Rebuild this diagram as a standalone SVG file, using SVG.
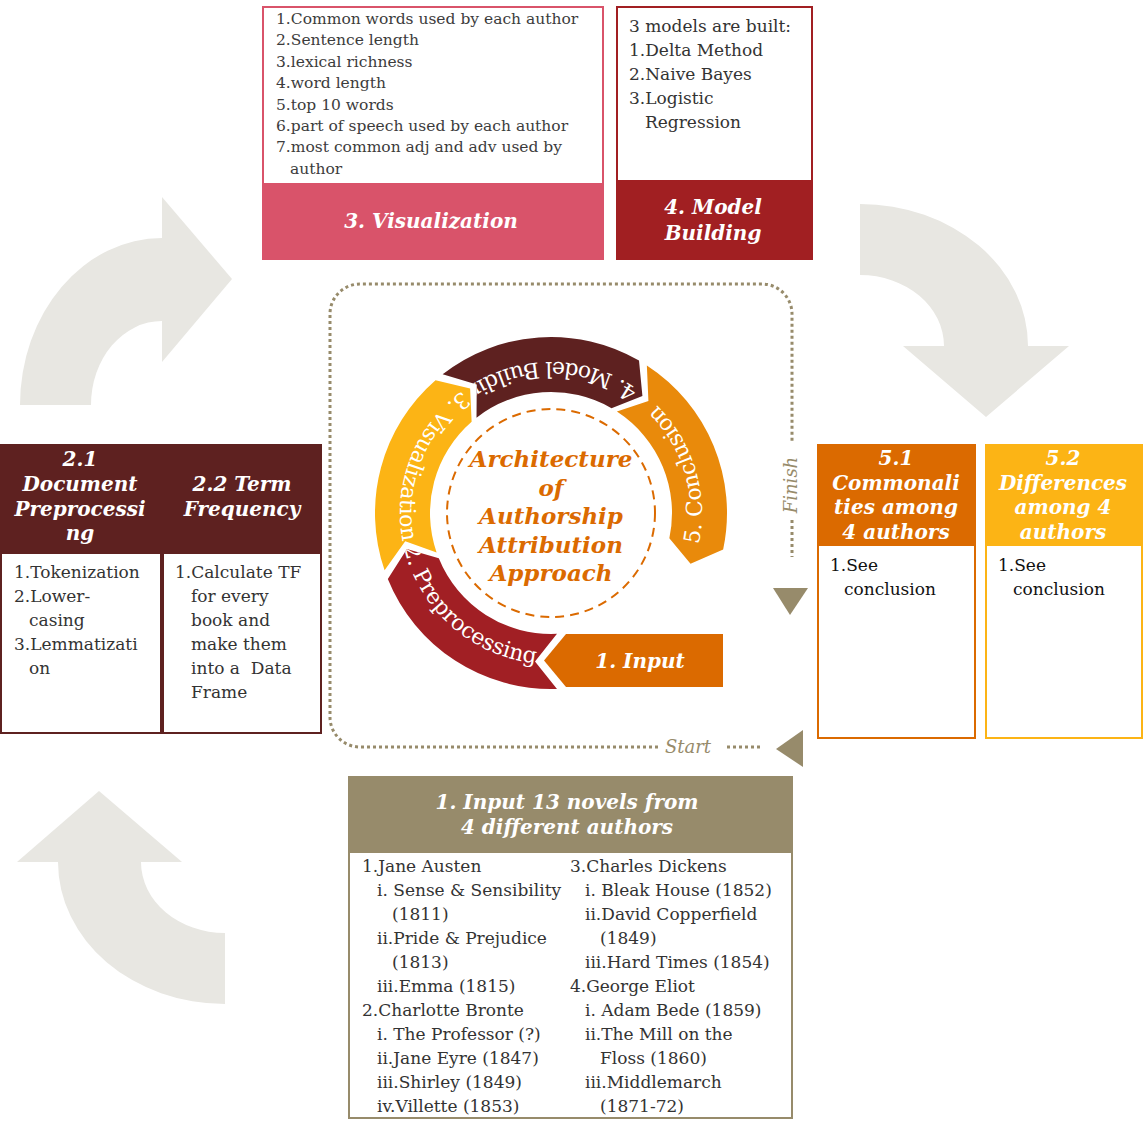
<svg xmlns="http://www.w3.org/2000/svg" width="1144" height="1128" viewBox="0 0 1144 1128">
  <style>
    .body { font-family: "DejaVu Serif", "Liberation Serif", serif; font-size: 17px; fill: #333333; }
    .vis { font-size: 15.5px; fill: #3c3c3c; }
    .dark { fill: #111111; }
    .hdr { font-family: "DejaVu Serif", "Liberation Serif", serif; font-weight: bold; font-style: italic; font-size: 20px; fill: #ffffff; text-anchor: middle; }
    .ring { font-family: "DejaVu Serif", "Liberation Serif", serif; font-size: 22px; fill: #ffffff; }
    .title { font-family: "DejaVu Serif", "Liberation Serif", serif; font-weight: bold; font-style: italic; font-size: 23px; fill: #db6a00; text-anchor: middle; }
    .tag { font-family: "DejaVu Serif", "Liberation Serif", serif; font-style: italic; font-size: 18px; fill: #978b6b; }
    .bigarrow { fill: #e8e7e2; }
    .dots { fill: none; stroke: #978b6b; stroke-width: 3; stroke-dasharray: 3 3; }
    .khaki { fill: #978b6b; }
  </style>

  <defs>
    <!-- ring segments of the cycle, centre (551,513), radii 121..176 -->
    <path id="seg-pre" d="M557,688.93 A176,176 0 0 1 387.82,578.93 L406.91,548.93 L438.81,558.33 A121,121 0 0 0 557,633.85 L535,661.4 Z"/>
    <path id="seg-vis" d="M384.59,570.30 A176,176 0 0 1 435.53,380.17 L470.12,388.46 L471.62,421.68 A121,121 0 0 0 436.59,552.39 L405.23,541.34 Z"/>
    <path id="seg-mod" d="M442.64,374.31 A176,176 0 0 1 639,360.58 L642.43,395.98 L611.5,408.21 A121,121 0 0 0 476.51,417.65 L476.75,384.40 Z"/>
    <path id="seg-con" d="M646.86,365.39 A176,176 0 0 1 723.15,549.59 L690.54,563.79 L669.36,538.16 A121,121 0 0 0 616.90,411.52 L648.42,400.93 Z"/>

    <clipPath id="clip-pre"><use href="#seg-pre"/></clipPath>
    <clipPath id="clip-vis"><use href="#seg-vis"/></clipPath>
    <clipPath id="clip-mod"><use href="#seg-mod"/></clipPath>
    <clipPath id="clip-con"><use href="#seg-con"/></clipPath>

    <!-- label baselines, radius 151, running counter-clockwise -->
    <path id="lbl-pre" d="M403.87,546.97 A151,151 0 0 0 564.16,663.42"/>
    <path id="lbl-vis" d="M462.24,390.84 A151,151 0 0 0 420.23,588.5"/>
    <path id="lbl-mod" d="M637.61,389.31 A151,151 0 0 0 435.33,415.94"/>
    <path id="lbl-con" d="M698.70,544.39 A151,151 0 0 0 602.65,371.11"/>
  </defs>

  <rect width="1144" height="1128" fill="#ffffff"/>

  <!-- connectors: large curved arrows and the dotted start/finish loop -->
  <g id="connectors">
    <path class="bigarrow" d="M20,405 A142,167 0 0 1 162,238 L162,197 L232,279 L162,362 L162,321 A71,84 0 0 0 91,405 Z"/>
    <path class="bigarrow" d="M860,204 A168,142 0 0 1 1028,346 L1069,346 L986,417 L903,346 L944,346 A84,71 0 0 0 860,275 Z"/>
    <path class="bigarrow" d="M225,1004 A167,142 0 0 1 58,862 L17,862 L99,791 L182,862 L141,862 A84,71 0 0 0 225,933 Z"/>

    <path class="dots" d="M658,747 L360,747 A30,30 0 0 1 330,717 L330,314 A30,30 0 0 1 360,284 L762,284 A30,30 0 0 1 792,314 L792,443"/>
    <path class="dots" d="M792,520 L792,557"/>
    <path class="dots" d="M727,747 L762,747"/>
    <polygon class="khaki" points="773,588 808,588 790,615"/>
    <polygon class="khaki" points="776,749 803,730 803,767"/>
    <text class="tag" transform="translate(797,485) rotate(-90)" text-anchor="middle">Finish</text>
    <text class="tag" x="688" y="753" text-anchor="middle">Start</text>
  </g>

  <!-- central cycle -->
  <g id="cycle">
    <g id="ring-input">
      <path d="M566,634 L723,634 L723,687 L566,687 L544,660.5 Z" fill="#db6a00"/>
      <text class="hdr" x="640" y="668" font-size="21">1. Input</text>
    </g>
    <g id="ring-preprocessing">
      <use href="#seg-pre" fill="#a11f24"/>
      <text class="ring" clip-path="url(#clip-pre)"><textPath href="#lbl-pre">2. Preprocessing</textPath></text>
    </g>
    <g id="ring-visualization">
      <use href="#seg-vis" fill="#fcb415"/>
      <text class="ring" clip-path="url(#clip-vis)"><textPath href="#lbl-vis">3. Visualization</textPath></text>
    </g>
    <g id="ring-model">
      <use href="#seg-mod" fill="#5e2120"/>
      <text class="ring" clip-path="url(#clip-mod)"><textPath href="#lbl-mod">4. Model Building</textPath></text>
    </g>
    <g id="ring-conclusion">
      <use href="#seg-con" fill="#e98a0b"/>
      <text class="ring" clip-path="url(#clip-con)"><textPath href="#lbl-con">5. Conclusion</textPath></text>
    </g>
    <g id="centre">
      <circle cx="551" cy="513" r="104" fill="none" stroke="#db6a00" stroke-width="2" stroke-dasharray="9 6"/>
      <text class="title" x="551" y="467">Architecture</text>
      <text class="title" x="551" y="495.5">of</text>
      <text class="title" x="551" y="524">Authorship</text>
      <text class="title" x="551" y="552.5">Attribution</text>
      <text class="title" x="551" y="581">Approach</text>
    </g>
  </g>

  <!-- 3. Visualization -->
  <g id="visualization">
    <rect x="263" y="7" width="340" height="251" fill="#ffffff" stroke="#d9536a" stroke-width="2"/>
    <rect x="262" y="183" width="342" height="77" fill="#d9536a"/>
    <text class="body vis" x="276" y="24">1.Common words used by each author</text>
    <text class="body vis" x="276" y="45.4">2.Sentence length</text>
    <text class="body vis" x="276" y="66.8">3.lexical richness</text>
    <text class="body vis" x="276" y="88.2">4.word length</text>
    <text class="body vis" x="276" y="109.6">5.top 10 words</text>
    <text class="body vis" x="276" y="131">6.part of speech used by each author</text>
    <text class="body vis" x="276" y="152.4">7.most common adj and adv used by</text>
    <text class="body vis" x="290" y="173.8">author</text>
    <text class="hdr" x="431" y="228" font-size="20.5">3. Visualization</text>
  </g>

  <!-- 4. Model Building -->
  <g id="model-building">
    <rect x="617" y="7" width="195" height="251" fill="#ffffff" stroke="#a11f22" stroke-width="2"/>
    <rect x="616" y="180" width="197" height="80" fill="#a11f22"/>
    <text class="body" x="629" y="32">3 models are built:</text>
    <text class="body" x="629" y="56">1.Delta Method</text>
    <text class="body" x="629" y="80">2.Naive Bayes</text>
    <text class="body" x="629" y="104">3.Logistic</text>
    <text class="body" x="645" y="128">Regression</text>
    <text class="hdr" x="713" y="214">4. Model</text>
    <text class="hdr" x="713" y="240">Building</text>
  </g>

  <!-- 2.1 Document Preprocessing -->
  <g id="document-preprocessing">
    <rect x="1" y="445" width="160" height="288" fill="#ffffff" stroke="#5e2120" stroke-width="2"/>
    <rect x="0" y="444" width="161" height="110" fill="#5e2120"/>
    <text class="hdr" x="80" y="466">2.1</text>
    <text class="hdr" x="80" y="491">Document</text>
    <text class="hdr" x="80" y="516">Preprocessi</text>
    <text class="hdr" x="80" y="540">ng</text>
    <text class="body" x="14" y="578">1.Tokenization</text>
    <text class="body" x="14" y="602">2.Lower-</text>
    <text class="body" x="29" y="626">casing</text>
    <text class="body" x="14" y="650">3.Lemmatizati</text>
    <text class="body" x="29" y="674">on</text>
  </g>

  <!-- 2.2 Term Frequency -->
  <g id="term-frequency">
    <rect x="163" y="445" width="158" height="288" fill="#ffffff" stroke="#5e2120" stroke-width="2"/>
    <rect x="163" y="444" width="159" height="110" fill="#5e2120"/>
    <text class="hdr" x="242" y="491">2.2 Term</text>
    <text class="hdr" x="242" y="516">Frequency</text>
    <text class="body" x="175" y="578">1.Calculate TF</text>
    <text class="body" x="191" y="602">for every</text>
    <text class="body" x="191" y="626">book and</text>
    <text class="body" x="191" y="650">make them</text>
    <text class="body" x="191" y="674" style="white-space:pre">into a  Data</text>
    <text class="body" x="191" y="698">Frame</text>
  </g>

  <!-- 5.1 Commonalities -->
  <g id="commonalities">
    <rect x="818" y="445" width="157" height="293" fill="#ffffff" stroke="#db6a00" stroke-width="2"/>
    <rect x="817" y="444" width="159" height="102" fill="#db6a00"/>
    <text class="hdr" x="896" y="465">5.1</text>
    <text class="hdr" x="896" y="489.5">Commonali</text>
    <text class="hdr" x="896" y="514">ties among</text>
    <text class="hdr" x="896" y="538.5">4 authors</text>
    <text class="body dark" x="830" y="571">1.See</text>
    <text class="body dark" x="844" y="595">conclusion</text>
  </g>

  <!-- 5.2 Differences -->
  <g id="differences">
    <rect x="986" y="445" width="156" height="293" fill="#ffffff" stroke="#fcb415" stroke-width="2"/>
    <rect x="985" y="444" width="158" height="102" fill="#fcb415"/>
    <text class="hdr" x="1063" y="465">5.2</text>
    <text class="hdr" x="1063" y="489.5">Differences</text>
    <text class="hdr" x="1063" y="514">among 4</text>
    <text class="hdr" x="1063" y="538.5">authors</text>
    <text class="body dark" x="998" y="571">1.See</text>
    <text class="body dark" x="1013" y="595">conclusion</text>
  </g>

  <!-- 1. Input -->
  <g id="input-novels">
    <rect x="349" y="777" width="443" height="341" fill="#ffffff" stroke="#978b6b" stroke-width="2"/>
    <rect x="348" y="776" width="445" height="77" fill="#978b6b"/>
    <text class="hdr" x="567" y="809" font-size="18.5">1. Input 13 novels from</text>
    <text class="hdr" x="567" y="834" font-size="18.5">4 different authors</text>

    <text class="body" x="362" y="872">1.Jane Austen</text>
    <text class="body" x="377" y="896">i. Sense &amp; Sensibility</text>
    <text class="body" x="392" y="920">(1811)</text>
    <text class="body" x="377" y="944">ii.Pride &amp; Prejudice</text>
    <text class="body" x="392" y="968">(1813)</text>
    <text class="body" x="377" y="992">iii.Emma (1815)</text>
    <text class="body" x="362" y="1016">2.Charlotte Bronte</text>
    <text class="body" x="377" y="1040">i. The Professor (?)</text>
    <text class="body" x="377" y="1064">ii.Jane Eyre (1847)</text>
    <text class="body" x="377" y="1088">iii.Shirley (1849)</text>
    <text class="body" x="377" y="1112">iv.Villette (1853)</text>

    <text class="body" x="570" y="872">3.Charles Dickens</text>
    <text class="body" x="585" y="896">i. Bleak House (1852)</text>
    <text class="body" x="585" y="920">ii.David Copperfield</text>
    <text class="body" x="600" y="944">(1849)</text>
    <text class="body" x="585" y="968">iii.Hard Times (1854)</text>
    <text class="body" x="570" y="992">4.George Eliot</text>
    <text class="body" x="585" y="1016">i. Adam Bede (1859)</text>
    <text class="body" x="585" y="1040">ii.The Mill on the</text>
    <text class="body" x="600" y="1064">Floss (1860)</text>
    <text class="body" x="585" y="1088">iii.Middlemarch</text>
    <text class="body" x="600" y="1112">(1871-72)</text>
  </g>
</svg>
